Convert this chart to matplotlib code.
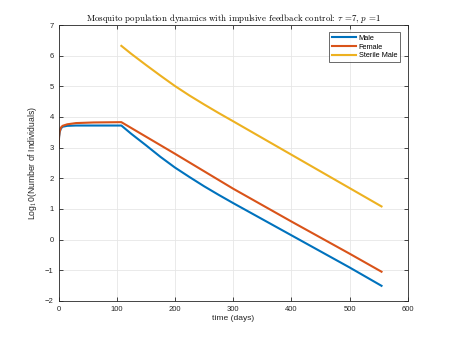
import numpy as np
import matplotlib
matplotlib.use("Agg")
import matplotlib.pyplot as plt

plt.rcParams['font.family'] = ['Liberation Sans', 'DejaVu Sans']
plt.rcParams['mathtext.fontset'] = 'cm'

# values (log10 of counts)
t_male = [0, 1, 2, 4, 7, 15, 30, 60, 108, 125, 150, 175, 200, 225, 250, 275, 300, 400, 500, 555]
male = [3.0, 3.35, 3.5, 3.62, 3.68, 3.71, 3.72, 3.72, 3.72, 3.45, 3.08, 2.70, 2.35, 2.04, 1.74, 1.46, 1.19, 0.14, -0.91, -1.51]

t_female = [0, 1, 2, 4, 7, 15, 30, 60, 108, 200, 300, 400, 500, 555]
female = [3.0, 3.36, 3.52, 3.65, 3.71, 3.76, 3.80, 3.82, 3.83, 2.80, 1.66, 0.59, -0.46, -1.05]

t_sterile = [108, 125, 150, 175, 200, 225, 250, 275, 300, 400, 500, 555]
sterile = [6.32, 6.06, 5.70, 5.35, 5.01, 4.70, 4.41, 4.13, 3.86, 2.77, 1.68, 1.08]

fig = plt.figure(figsize=(4.5, 3.38), dpi=100)
ax = fig.add_axes([0.13, 0.11, 0.776, 0.816])

ax.plot(t_male, male, color="#0072BD", lw=1.5, label="Male")
ax.plot(t_female, female, color="#D95319", lw=1.5, label="Female")
ax.plot(t_sterile, sterile, color="#EDB120", lw=1.5, label="Sterile Male")

ax.set_xlim(0, 600)
ax.set_ylim(-2, 7)
ax.set_xticks(np.arange(0, 601, 100))
ax.set_yticks(np.arange(-2, 8, 1))
ax.grid(True, color="#e6e6e6", lw=0.6)
ax.set_axisbelow(True)
ax.tick_params(direction="in", top=True, right=True, labelsize=5.5, colors="#262626",
               length=3, width=0.6)
for s in ax.spines.values():
    s.set_color("#262626")
    s.set_linewidth(0.6)

ax.set_xlabel("time (days)", fontsize=6.1, color="#262626", labelpad=2)
ax.set_ylabel("Log$_1$0(Number of Individuals)", fontsize=6.2, color="#262626", labelpad=4)
ax.set_title(r"Mosquito population dynamics with impulsive feedback control: $\tau$ =7, $p$ =1",
             fontsize=6.4, family="cmr10", pad=3)

leg = ax.legend(loc="upper right", fontsize=5.3, frameon=True, fancybox=False,
                edgecolor="#262626", handlelength=3.2, handletextpad=0.4,
                borderpad=0.4, labelspacing=0.2, borderaxespad=0.0,
                bbox_to_anchor=(0.978, 0.975))
leg.get_frame().set_linewidth(0.6)

fig.savefig("out.png", dpi=100)
